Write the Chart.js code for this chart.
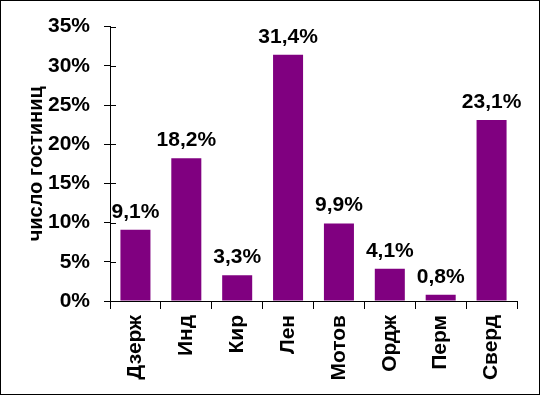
<!DOCTYPE html>
<html>
<head>
<meta charset="utf-8">
<script src="https://cdn.jsdelivr.net/npm/chart.js@4/dist/chart.umd.min.js"></script>
<style>
  html, body { margin: 0; padding: 0; background: #fff; }
  #wrap { width: 540px; height: 396px; }
</style>
</head>
<body>
<div id="wrap"><canvas id="c" width="540" height="396"></canvas></div>
<script>
const categories = ['Дзерж', 'Инд', 'Кир', 'Лен', 'Мотов', 'Ордж', 'Перм', 'Сверд'];
const shares = [9.1, 18.2, 3.3, 31.4, 9.9, 4.1, 0.8, 23.1];
const yTicks = [0, 5, 10, 15, 20, 25, 30, 35];
const axisTitle = 'число гостиниц';

const FONT = "'Liberation Sans', Arial, sans-serif";

// frame round the picture, inner tick halves on y axis, value labels over bars
const extras = {
    id: 'extras',
    afterDraw(chart) {
        const ctx = chart.ctx;
        const y = chart.scales.y;
        const area = chart.chartArea;
        ctx.save();
        ctx.strokeStyle = '#000';
        ctx.lineWidth = 1;
        ctx.beginPath();
        y.ticks.forEach(t => {
            const py = Math.round(y.getPixelForValue(t.value)) + 0.5;
            ctx.moveTo(area.left, py);
            ctx.lineTo(area.left + 6, py);
        });
        ctx.stroke();

        ctx.fillStyle = '#000';
        ctx.font = 'bold 21px ' + FONT;
        ctx.textAlign = 'center';
        ctx.textBaseline = 'alphabetic';
        chart.getDatasetMeta(0).data.forEach((bar, i) => {
            const txt = shares[i].toFixed(1).replace('.', ',') + '%';
            ctx.fillText(txt, bar.x, bar.y - 12);
        });

        ctx.strokeRect(0.5, 0.5, chart.width - 1, chart.height - 2);
        ctx.restore();
    }
};

new Chart(document.getElementById('c'), {
    type: 'bar',
    data: {
        labels: categories,
        datasets: [{
            data: shares,
            backgroundColor: '#800080',
            borderWidth: 0,
            barPercentage: 0.59,
            categoryPercentage: 1
        }]
    },
    options: {
        responsive: false,
        animation: false,
        layout: { padding: { top: 24, right: 23, bottom: 0, left: 0 } },
        plugins: {
            legend: { display: false },
            tooltip: { enabled: false }
        },
        scales: {
            x: {
                grid: { drawOnChartArea: false, drawTicks: true, tickLength: 8, color: '#000', offset: true },
                border: { display: true, color: '#000', width: 1 },
                ticks: {
                    color: '#000',
                    font: { family: FONT, size: 21, weight: 'bold' },
                    minRotation: 90,
                    maxRotation: 90,
                    padding: 6,
                    autoSkip: false
                },
                afterFit(scale) { scale.height = 95; }
            },
            y: {
                min: 0,
                max: yTicks[yTicks.length - 1],
                grid: { drawOnChartArea: false, drawTicks: true, tickLength: 6, color: '#000' },
                border: { display: true, color: '#000', width: 1 },
                ticks: {
                    stepSize: 5,
                    color: '#000',
                    padding: 14,
                    font: { family: FONT, size: 21, weight: 'bold' },
                    callback: v => v + '%'
                },
                title: {
                    display: true,
                    text: axisTitle,
                    color: '#000',
                    font: { family: FONT, size: 20, weight: 'bold' },
                    padding: { top: 24, bottom: 0 }
                },
                afterFit(scale) { scale.width = 110; }
            }
        }
    },
    plugins: [extras]
});
</script>
</body>
</html>
